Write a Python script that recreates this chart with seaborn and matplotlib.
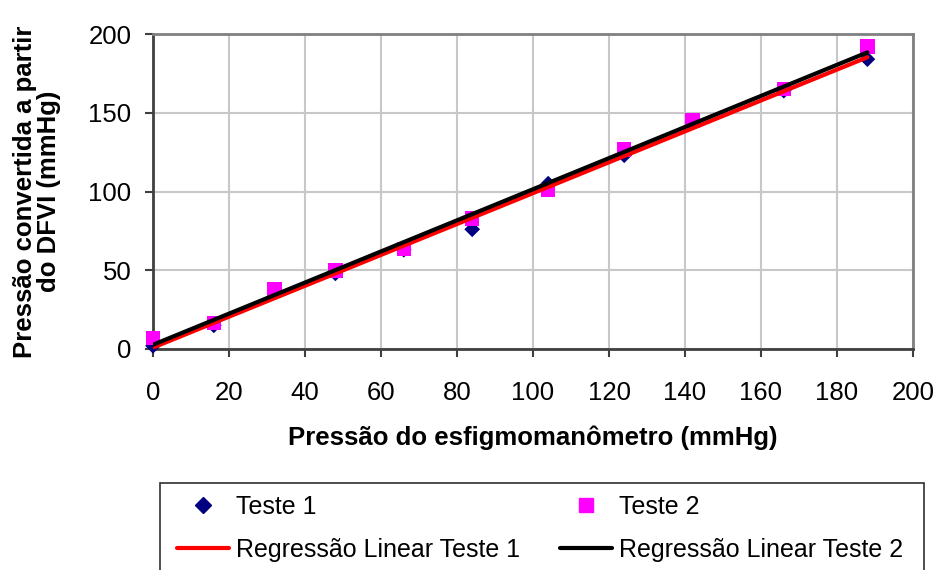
import numpy as np
import pandas as pd
import matplotlib
matplotlib.use("Agg")
import matplotlib.pyplot as plt
from matplotlib.lines import Line2D
from matplotlib.patches import Rectangle
import seaborn as sns

# Sphygmomanometer reference pressure (mmHg)
pressao_esfigmo = [0, 16, 32, 48, 66, 84, 104, 124, 142, 166, 188]
# Pressure converted from the DFVI readings (mmHg)
teste_1 = [2, 15, 37, 48, 63, 76, 105, 123, 144, 164, 184]
teste_2 = [7, 16.5, 38, 50, 63.5, 83, 101, 126.5, 145, 165, 192]

x_ticks = [0, 20, 40, 60, 80, 100, 120, 140, 160, 180, 200]
y_ticks = [0, 50, 100, 150, 200]

df = pd.DataFrame({"x": pressao_esfigmo, "t1": teste_1, "t2": teste_2})

sns.set_theme(style="white")
plt.rcParams["font.family"] = ["Liberation Sans", "DejaVu Sans"]
plt.rcParams["text.color"] = "black"
plt.rcParams["axes.labelcolor"] = "black"
plt.rcParams["xtick.color"] = "black"
plt.rcParams["ytick.color"] = "black"

W, H = 937, 570
fig = plt.figure(figsize=(W / 100, H / 100), dpi=100)
ax = fig.add_axes([153 / W, 1 - 349 / H, 760 / W, 315 / H])

navy = "#000080"
magenta = "#FF00FF"

sns.scatterplot(data=df, x="x", y="t1", ax=ax, marker="D", s=64,
                color=navy, edgecolor="none", linewidth=0, zorder=3, clip_on=False)
sns.scatterplot(data=df, x="x", y="t2", ax=ax, marker="s", s=110,
                color=magenta, edgecolor="none", linewidth=0, zorder=4, clip_on=False)
sns.regplot(data=df, x="x", y="t1", ax=ax, scatter=False, ci=None, truncate=True,
            line_kws={"color": "#FF0000", "lw": 3, "zorder": 5})
sns.regplot(data=df, x="x", y="t2", ax=ax, scatter=False, ci=None, truncate=True,
            line_kws={"color": "black", "lw": 3, "zorder": 6})

ax.set_xlim(0, 200)
ax.set_ylim(0, 200)
ax.set_xticks(x_ticks)
ax.set_yticks(y_ticks)
ax.set_xticklabels([str(v) for v in x_ticks])
ax.set_yticklabels([str(v) for v in y_ticks])
ax.tick_params(axis="both", which="major", labelsize=18.5, length=6, width=1.5,
               color="#404040", labelcolor="black", direction="out",
               bottom=True, left=True)
ax.tick_params(axis="x", pad=17)
ax.tick_params(axis="y", pad=9.5)

ax.grid(True, color="#C8C8C8", linewidth=1.5)
ax.set_axisbelow(True)
for side in ["left", "bottom"]:
    ax.spines[side].set_color("#404040")
    ax.spines[side].set_linewidth(2)
for side in ["top", "right"]:
    ax.spines[side].set_color("#808080")
    ax.spines[side].set_linewidth(2)

ax.set_xlabel("Pressão do esfigmomanômetro (mmHg)", fontsize=18.5,
              fontweight="bold", labelpad=15, color="black")
ax.set_ylabel("Pressão convertida a partir\ndo DFVI (mmHg)", fontsize=18.5,
              fontweight="bold", labelpad=20, linespacing=1.0, color="black")

# Legend box frame (runs past the bottom edge of the figure)
fig.patches.append(Rectangle((160 / W, 1 - 600 / H), 764 / W, 117 / H,
                             transform=fig.transFigure, facecolor="white",
                             edgecolor="#303030", linewidth=1.2, zorder=0))

handles = [
    Line2D([], [], marker="D", color=navy, linestyle="none", markersize=8),
    Line2D([], [], color="#FF0000", lw=3),
    Line2D([], [], marker="s", color=magenta, linestyle="none", markersize=10),
    Line2D([], [], color="black", lw=3),
]
labels = ["Teste 1", "Regressão Linear Teste 1",
          "Teste 2", "Regressão Linear Teste 2"]
leg = fig.legend(handles, labels, ncol=2, loc="upper left",
                 bbox_to_anchor=(177 / W, 1 - 495 / H),
                 frameon=False, fontsize=18, handlelength=2.1,
                 handletextpad=0.25, columnspacing=1.6, labelspacing=0.75,
                 borderpad=0, borderaxespad=0)
for t in leg.get_texts():
    t.set_color("black")

fig.savefig("out.png", dpi=100)
